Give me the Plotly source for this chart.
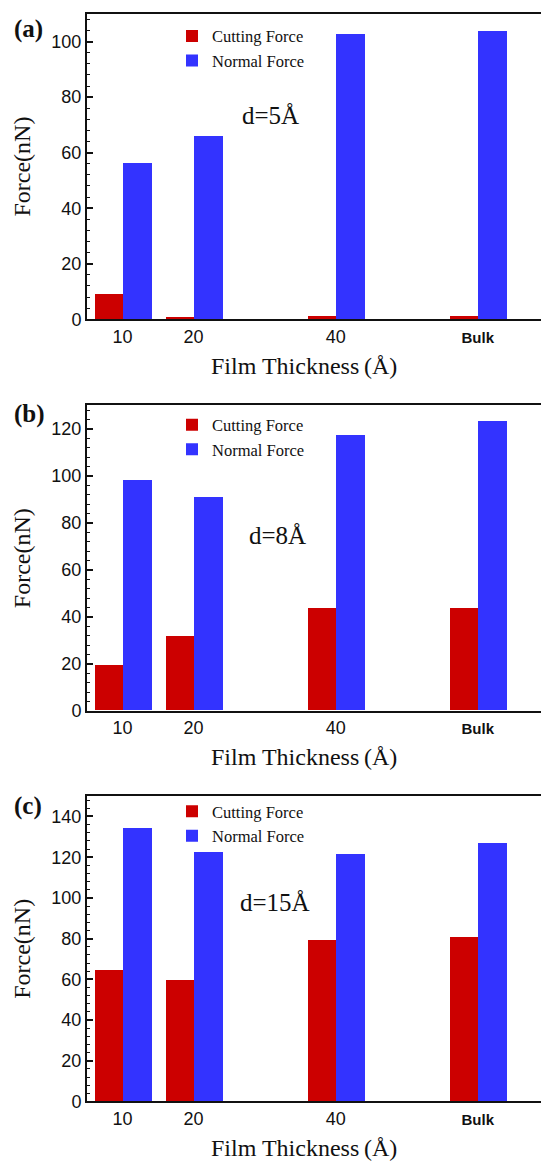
import plotly.graph_objects as go

# ---- data ----
thickness_pos = [10, 20, 40, 60]          # "Bulk" placed at 60
tick_labels = ["10", "20", "40", "Bulk"]
series_names = ["Cutting Force", "Normal Force"]
panel_labels = ["(a)", "(b)", "(c)"]
d_labels = ["d=5Å", "d=8Å", "d=15Å"]
x_title = "Film Thickness\u2009(Å)"
y_title = "Force(nN)"
y_max = [110, 130, 150]

cutting_a = [9.2, 0.7, 1.2, 1.3]
normal_a = [56.2, 66.2, 102.7, 103.7]
cutting_b = [19.5, 31.6, 43.6, 43.6]
normal_b = [98.2, 91.0, 117.4, 123.3]
cutting_c = [64.5, 59.6, 79.1, 80.6]
normal_c = [134.5, 122.6, 121.3, 126.7]

cutting = [cutting_a, cutting_b, cutting_c]
normal = [normal_a, normal_b, normal_c]

RED = "#CC0000"
BLUE = "#3333FF"
W, H = 541, 1168
SERIF = "Liberation Serif, Times New Roman, serif"
SANS = "Liberation Sans, Arial, sans-serif"
INK = "#111111"

# pixel boxes (top, bottom) of each plot area
boxes = [(14, 322), (409, 717), (803, 1111)]
x_left_px = 87
legend_top = [19, 411, 801]
panel_y = [29, 418, 813]
d_pos = [(270, 116), (277, 540), (275, 910)]

fig = go.Figure()
layout = dict(
    width=W, height=H,
    margin=dict(l=0, r=0, t=0, b=0),
    paper_bgcolor="white", plot_bgcolor="white",
    bargap=0, showlegend=True,
    font=dict(family=SANS, color=INK),
)

ticktext = [t if t != "Bulk" else "<b><span style='font-size:15px'>Bulk</span></b>" for t in tick_labels]
annotations = []

for i in range(3):
    sfx = "" if i == 0 else str(i + 1)
    xa, ya = "x" + sfx, "y" + sfx
    leg = "legend" + sfx
    top, bot = boxes[i]
    fig.add_trace(go.Bar(
        x=thickness_pos, y=cutting[i], name=series_names[0],
        marker=dict(color=RED, line=dict(width=0)),
        width=3.9, offset=-3.9, xaxis=xa, yaxis=ya, legend=leg,
    ))
    fig.add_trace(go.Bar(
        x=thickness_pos, y=normal[i], name=series_names[1],
        marker=dict(color=BLUE, line=dict(width=0)),
        width=4.15, offset=0, xaxis=xa, yaxis=ya, legend=leg,
    ))
    ydom = [1 - bot / H, 1 - top / H]
    layout["xaxis" + sfx] = dict(
        domain=[x_left_px / W, 1.0], anchor=ya, range=[5, 68.9],
        tickvals=thickness_pos, ticktext=ticktext,
        showline=True, linecolor=INK, linewidth=2, mirror=True,
        ticks="", showgrid=False, zeroline=False,
        tickfont=dict(family=SANS, size=18, color=INK),
    )
    layout["yaxis" + sfx] = dict(
        domain=ydom, anchor=xa, range=[0, y_max[i]], dtick=20,
        showline=True, linecolor=INK, linewidth=2,
        ticks="inside", ticklen=6, tickwidth=1.5, tickcolor=INK,
        minor=dict(dtick=4, ticks="inside", ticklen=3, tickwidth=1, tickcolor=INK),
        showgrid=False, zeroline=False,
        tickfont=dict(family=SANS, size=18, color=INK),
        title=dict(text=y_title, standoff=14,
                   font=dict(family=SERIF, size=24, color=INK)),
    )
    layout[leg] = dict(
        x=172 / W, xanchor="left", y=1 - legend_top[i] / H, yanchor="top",
        bgcolor="rgba(0,0,0,0)", borderwidth=0,
        font=dict(family=SERIF, size=16.5, color=INK),
        tracegroupgap=0,
    )
    annotations.append(dict(
        text=x_title, xref="paper", yref="paper",
        x=304 / W, y=1 - (bot + 47) / H, xanchor="center", yanchor="middle",
        showarrow=False, font=dict(family=SERIF, size=24, color=INK),
    ))
    annotations.append(dict(
        text="<b>" + panel_labels[i] + "</b>", xref="paper", yref="paper",
        x=12 / W, y=1 - panel_y[i] / H, xanchor="left", yanchor="middle",
        showarrow=False, font=dict(family=SERIF, size=25, color=INK),
    ))
    dx, dy = d_pos[i]
    annotations.append(dict(
        text=d_labels[i], xref="paper", yref="paper",
        x=dx / W, y=1 - dy / H, xanchor="center", yanchor="middle",
        showarrow=False, font=dict(family=SERIF, size=25, color=INK),
    ))

layout["annotations"] = annotations
fig.update_layout(**layout)
fig.write_html("out.html")
